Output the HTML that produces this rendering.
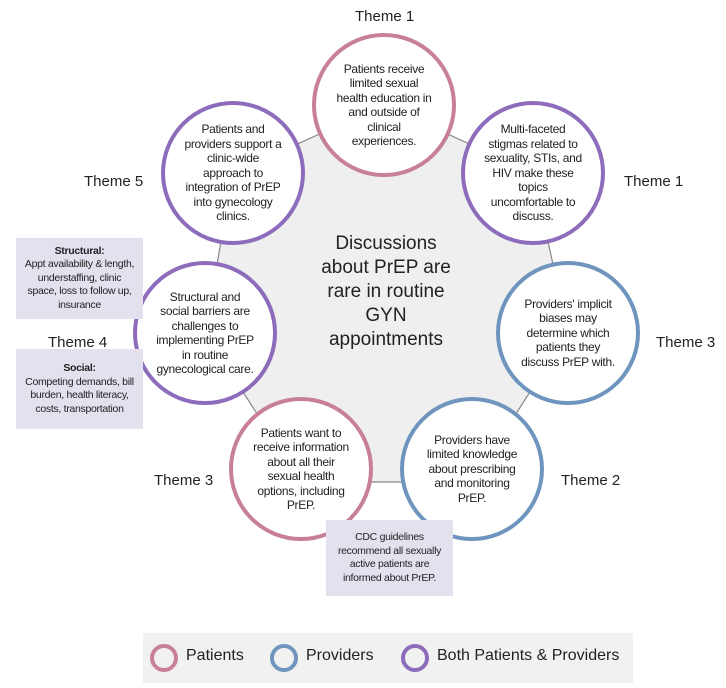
<!DOCTYPE html>
<html><head><meta charset="utf-8"><style>
body{margin:0;width:726px;height:688px;background:#fff;position:relative;overflow:hidden;font-family:"Liberation Sans",sans-serif;color:#222}
.c{position:absolute;width:136px;height:136px;border-radius:50%;border:4px solid;background:#fff;display:flex;align-items:center;justify-content:center;text-align:center;font-size:12px;line-height:14.5px;letter-spacing:-0.3px;box-sizing:content-box}
.c div{width:100px}
.pk{border-color:#c77f9a}.bl{border-color:#6f95bf}.pu{border-color:#8d6cbb}
.t{position:absolute;font-size:15px;white-space:nowrap}
.box{position:absolute;background:#e4e1ee;text-align:center;font-size:10.5px;line-height:13.5px;letter-spacing:-0.3px;display:flex;align-items:center;justify-content:center}
.box div{width:112px}
.lg{position:absolute;left:143px;top:633px;width:490px;height:50px;background:#f1f1f1}
.lc{position:absolute;top:11px;width:20px;height:20px;border-radius:50%;border:4px solid}
.lt{position:absolute;top:14px;font-size:16px}
</style></head><body>
<svg width="726" height="688" style="position:absolute;left:0;top:0">
<polygon points="384,105 533,173 568,333 472,482 301,482 205,333 233,173" fill="#efefef" stroke="#888" stroke-width="1.2"/>
</svg>
<div class="t" style="left:355px;top:8px">Theme 1</div>
<div class="t" style="left:624px;top:173px">Theme 1</div>
<div class="t" style="left:84px;top:173px">Theme 5</div>
<div class="t" style="left:656px;top:334px">Theme 3</div>
<div class="t" style="left:48px;top:334px">Theme 4</div>
<div class="t" style="left:561px;top:472px">Theme 2</div>
<div class="t" style="left:154px;top:472px">Theme 3</div>

<div style="position:absolute;left:296px;top:232px;width:180px;text-align:center;font-size:19px;line-height:24px">Discussions<br>about PrEP are<br>rare in routine<br>GYN<br>appointments</div>

<div class="c pk" style="left:312px;top:33px"><div>Patients receive limited sexual health education in and outside of clinical experiences.</div></div>
<div class="c pu" style="left:161px;top:101px"><div>Patients and providers support a clinic-wide approach to integration of PrEP into gynecology clinics.</div></div>
<div class="c pu" style="left:461px;top:101px"><div>Multi-faceted stigmas related to sexuality, STIs, and HIV make these topics uncomfortable to discuss.</div></div>
<div class="c pu" style="left:133px;top:261px"><div>Structural and social barriers are challenges to implementing PrEP in routine gynecological care.</div></div>
<div class="c bl" style="left:496px;top:261px"><div>Providers' implicit biases may determine which patients they discuss PrEP with.</div></div>
<div class="c pk" style="left:229px;top:397px"><div>Patients want to receive information about all their sexual health options, including PrEP.</div></div>
<div class="c bl" style="left:400px;top:397px"><div>Providers have limited knowledge about prescribing and monitoring PrEP.</div></div>

<div class="box" style="left:16px;top:238px;width:127px;height:81px"><div><b>Structural:</b><br>Appt availability &amp; length, understaffing, clinic space, loss to follow up, insurance</div></div>
<div class="box" style="left:16px;top:349px;width:127px;height:80px"><div><b>Social:</b><br>Competing demands, bill burden, health literacy, costs, transportation</div></div>
<div class="box" style="left:326px;top:520px;width:127px;height:76px"><div>CDC guidelines recommend all sexually active patients are informed about PrEP.</div></div>

<div class="lg">
<div class="lc" style="left:7px;border-color:#c77f9a"></div><div class="lt" style="left:43px">Patients</div>
<div class="lc" style="left:127px;border-color:#6f95bf"></div><div class="lt" style="left:163px">Providers</div>
<div class="lc" style="left:258px;border-color:#8d6cbb"></div><div class="lt" style="left:294px">Both Patients &amp; Providers</div>
</div>
</body></html>
